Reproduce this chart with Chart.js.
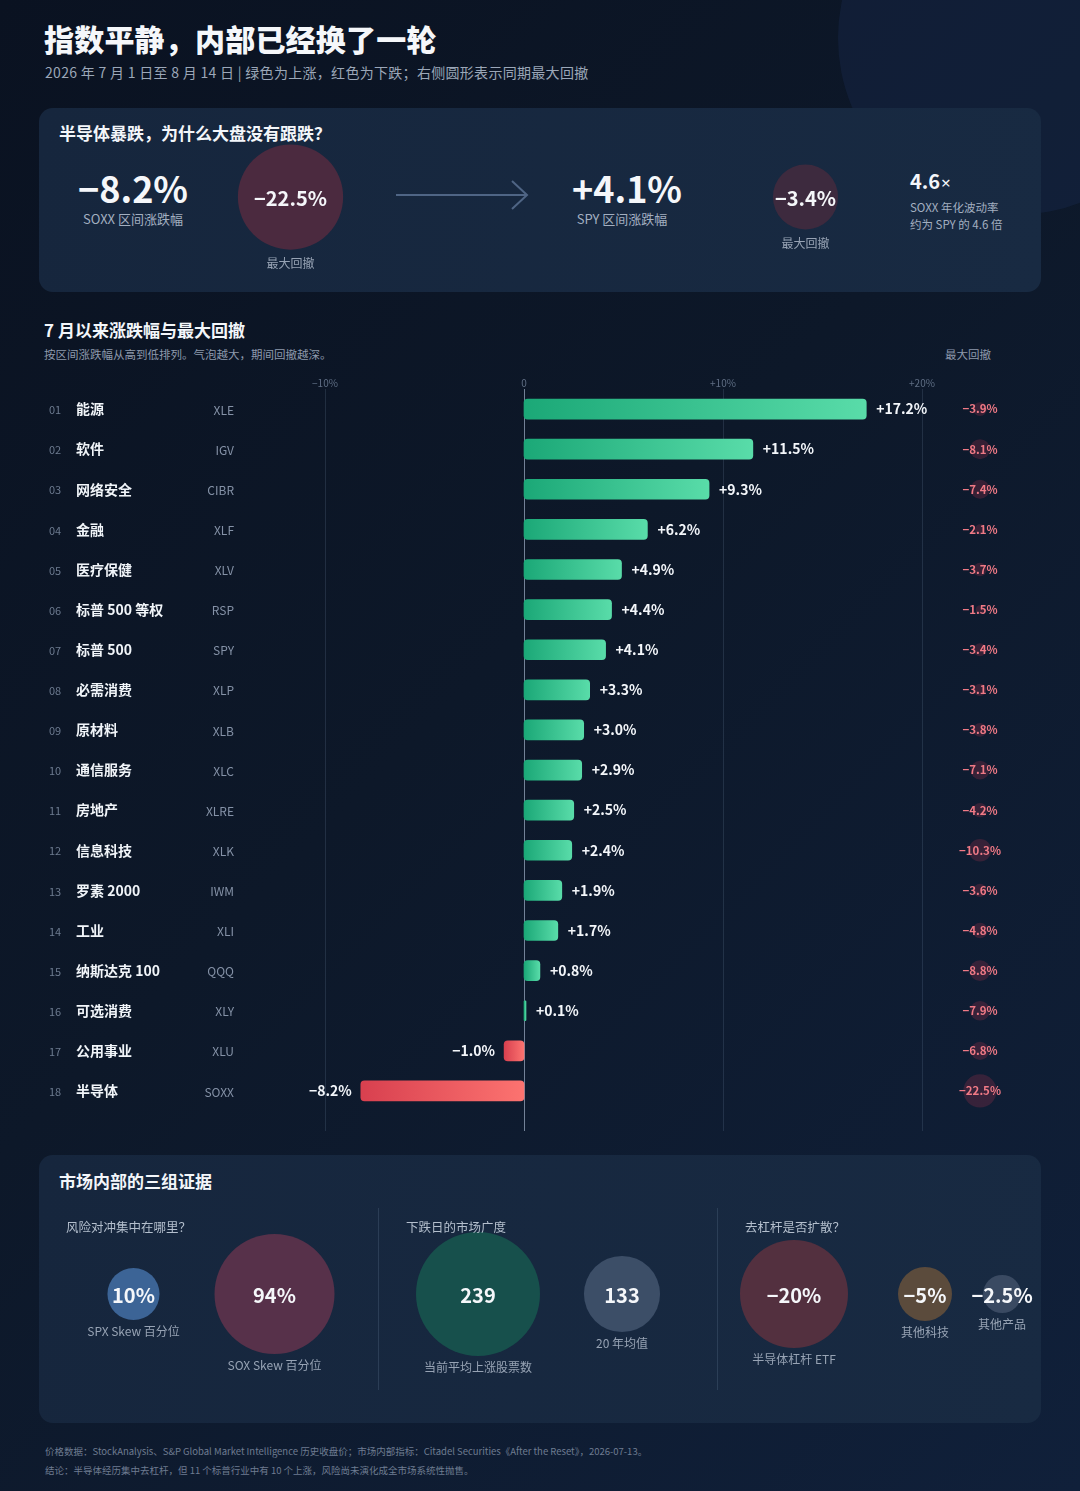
<!DOCTYPE html>
<html lang="zh-CN">
<head>
<meta charset="utf-8">
<title>指数平静，内部已经换了一轮</title>
<script src="https://cdn.jsdelivr.net/npm/chart.js@4.4.1/dist/chart.umd.min.js"></script>
<style>
  html, body { margin: 0; padding: 0; }
  body { width: 1080px; height: 1491px; overflow: hidden; font-family: 'Noto Sans CJK SC', 'Noto Sans', sans-serif; color: #f1f5f9;
    background: linear-gradient(135deg, #0a1221 0%, #0d1829 45%, #10203a 100%); }
  #page { position: relative; width: 1080px; height: 1491px; overflow: hidden; }
  .glow { position: absolute; left: 838px; top: -139px; width: 354px; height: 354px; border-radius: 50%; background: rgba(28, 48, 86, 0.32); }
  .abs { position: absolute; white-space: nowrap; }
  .title { left: 44px; top: 18px; font-size: 30px; line-height: 40px; font-weight: 900; color: #f5f7fa; letter-spacing: 0.2px; }
  .subtitle { left: 45px; top: 62px; font-size: 14px; line-height: 20px; color: #9ba7b8; letter-spacing: 0.3px; }
  .card { position: absolute; left: 39px; width: 1002px; border-radius: 14px; background: linear-gradient(100deg, #16263d 0%, #182a42 100%); }
  .card-title { font-size: 17px; line-height: 24px; font-weight: 700; color: #f3f6fa; }
  .kpi-num { width: 200px; text-align: center; font-size: 36px; line-height: 40px; font-weight: 700; color: #f5f7fa; }
  .kpi-lab { width: 200px; text-align: center; font-size: 13px; line-height: 18px; color: #a3afc0; }
  .vol-num { font-size: 20px; line-height: 24px; font-weight: 700; color: #f3f6fa; }
  .vol-num small { font-family: 'Noto Sans', sans-serif; font-size: 17px; font-weight: 400; margin-left: 1px; }
  .vol-txt { font-size: 11.5px; line-height: 17px; color: #a3afc0; }
  .sec-title { left: 44px; top: 318px; font-size: 17px; line-height: 24px; font-weight: 700; color: #f3f6fa; }
  .sec-sub { left: 44px; top: 346px; font-size: 11.5px; line-height: 16px; color: #8e9aad; }
  .dd-head { left: 918px; width: 100px; text-align: center; top: 346px; font-size: 11.5px; line-height: 16px; color: #8e9aad; }
  .panel-head { font-size: 12.5px; line-height: 18px; color: #b4bfcd; z-index: 2; }
  .divider { position: absolute; top: 1208px; width: 1px; height: 182px; background: rgba(120, 140, 170, 0.22); }
  .footer { left: 45px; font-size: 9.5px; line-height: 14px; color: #6e7c91; }
  canvas { position: absolute; display: block; z-index: 1; }
</style>
</head>
<body>
<div id="page">
  <div class="glow"></div>
  <div class="abs title">指数平静，内部已经换了一轮</div>
  <div class="abs subtitle">2026 年 7 月 1 日至 8 月 14 日 | 绿色为上涨，红色为下跌；右侧圆形表示同期最大回撤</div>

  <!-- top card -->
  <div class="card" style="top:108px;height:184px;"></div>
  <div class="abs card-title" style="left:59px;top:121px;">半导体暴跌，为什么大盘没有跟跌？</div>
  <div class="abs kpi-num" id="kpi0" style="left:33px;top:167px;"></div>
  <div class="abs kpi-lab" id="kpiLab0" style="left:33px;top:210px;"></div>
  <div class="abs kpi-num" id="kpi1" style="left:527px;top:167px;"></div>
  <div class="abs kpi-lab" id="kpiLab1" style="left:522px;top:210px;"></div>
  <svg class="abs" style="left:394px;top:178px;" width="138" height="34" viewBox="0 0 138 34">
    <line x1="2" y1="17" x2="133" y2="17" stroke="#4f6585" stroke-width="2"/>
    <polyline points="118,3 133,17 118,31" fill="none" stroke="#4f6585" stroke-width="2"/>
  </svg>
  <div class="abs vol-num" id="volNum" style="left:910px;top:169px;"></div>
  <div class="abs vol-txt" id="volTxt" style="left:910px;top:199px;"></div>
  <canvas id="kpiChart" width="1030" height="160" style="left:33px;top:117px;width:1030px;height:160px;"></canvas>

  <!-- sector chart -->
  <div class="abs sec-title">7 月以来涨跌幅与最大回撤</div>
  <div class="abs sec-sub">按区间涨跌幅从高到低排列。气泡越大，期间回撤越深。</div>
  <div class="abs dd-head">最大回撤</div>
  <canvas id="sectorChart" width="1080" height="772" style="left:0;top:369px;width:1080px;height:772px;"></canvas>

  <!-- bottom card -->
  <div class="card" style="top:1155px;height:268px;"></div>
  <div class="abs card-title" style="left:59px;top:1169px;">市场内部的三组证据</div>
  <div class="abs panel-head" style="left:66px;top:1218px;">风险对冲集中在哪里？</div>
  <div class="abs panel-head" style="left:406px;top:1218px;">下跌日的市场广度</div>
  <div class="abs panel-head" style="left:745px;top:1218px;">去杠杆是否扩散？</div>
  <div class="divider" style="left:378px;"></div>
  <div class="divider" style="left:717px;"></div>
  <canvas id="hedgeChart" width="282" height="200" style="left:63px;top:1200px;width:282px;height:200px;"></canvas>
  <canvas id="breadthChart" width="288" height="200" style="left:406px;top:1200px;width:288px;height:200px;"></canvas>
  <canvas id="delevChart" width="324" height="200" style="left:717px;top:1200px;width:324px;height:200px;"></canvas>

  <div class="abs footer" style="top:1444px;">价格数据：StockAnalysis、S&amp;P Global Market Intelligence 历史收盘价；市场内部指标：Citadel Securities《After the Reset》，2026-07-13。</div>
  <div class="abs footer" style="top:1463px;">结论：半导体经历集中去杠杆，但 11 个标普行业中有 10 个上涨，风险尚未演化成全市场系统性抛售。</div>
</div>

<script>
// ---- data ----
const sectorNames = ['能源', '软件', '网络安全', '金融', '医疗保健', '标普 500 等权', '标普 500', '必需消费', '原材料',
  '通信服务', '房地产', '信息科技', '罗素 2000', '工业', '纳斯达克 100', '可选消费', '公用事业', '半导体'];
const sectorTickers = ['XLE', 'IGV', 'CIBR', 'XLF', 'XLV', 'RSP', 'SPY', 'XLP', 'XLB', 'XLC', 'XLRE', 'XLK', 'IWM', 'XLI', 'QQQ', 'XLY', 'XLU', 'SOXX'];
const sectorReturns = [17.2, 11.5, 9.3, 6.2, 4.9, 4.4, 4.1, 3.3, 3.0, 2.9, 2.5, 2.4, 1.9, 1.7, 0.8, 0.1, -1.0, -8.2];
const sectorDrawdowns = [-3.9, -8.1, -7.4, -2.1, -3.7, -1.5, -3.4, -3.1, -3.8, -7.1, -4.2, -10.3, -3.6, -4.8, -8.8, -7.9, -6.8, -22.5];
const axisTicks = [-10, 0, 10, 20];

const kpiTickers = ['SOXX', 'SPY'];
const kpiReturns = [-8.2, 4.1];
const kpiDrawdowns = [-22.5, -3.4];
const volRatio = 4.6;

const hedgeLabels = ['SPX Skew 百分位', 'SOX Skew 百分位'];
const hedgeValues = [10, 94];
const breadthLabels = ['当前平均上涨股票数', '20 年均值'];
const breadthValues = [239, 133];
const delevLabels = ['半导体杠杆 ETF', '其他科技', '其他产品'];
const delevValues = [-20, -5, -2.5];

// ---- helpers ----
const FONT = "'Noto Sans CJK SC', 'Noto Sans', sans-serif";
Chart.defaults.font.family = FONT;
Chart.defaults.animation = false;

const sign = v => (v > 0 ? '+' : v < 0 ? '−' : '');
const fmtPct = (v, d = 1) => sign(v) + Math.abs(v).toFixed(d) + '%';
const fmtShort = v => (v < 0 ? '−' : '') + Math.abs(v) + '%';
const tickFmt = v => (v === 0 ? '0' : sign(v) + Math.abs(v) + '%');

const baseOpts = {
  responsive: false, animation: false, events: [],
  plugins: { legend: { display: false }, tooltip: { enabled: false } }
};

// text inside and below each bubble
function bubbleText(fmt, captions, opts) {
  return {
    id: 'bubbleText',
    afterDatasetsDraw(chart) {
      const c = chart.ctx;
      const meta = chart.getDatasetMeta(0);
      const ds = chart.data.datasets[0];
      c.save();
      c.textAlign = 'center';
      c.textBaseline = 'middle';
      meta.data.forEach((pt, i) => {
        const r = ds.data[i].r;
        c.fillStyle = '#f5f7fa';
        c.font = '700 ' + opts.size + 'px ' + FONT;
        c.fillText(fmt(ds.raw[i]), pt.x, pt.y + 1);
        if (captions) {
          c.fillStyle = '#97a3b4';
          c.font = opts.capSize + 'px ' + FONT;
          c.fillText(captions[i], pt.x, pt.y + r + opts.capGap);
        }
      });
      c.restore();
    }
  };
}

// ---- top KPI card ----
kpiTickers.forEach((t, i) => {
  document.getElementById('kpi' + i).textContent = fmtPct(kpiReturns[i]);
  document.getElementById('kpiLab' + i).textContent = t + ' 区间涨跌幅';
});
document.getElementById('volNum').innerHTML = volRatio + '<small>×</small>';
document.getElementById('volTxt').innerHTML = kpiTickers[0] + ' 年化波动率<br>约为 ' + kpiTickers[1] + ' 的 ' + volRatio + ' 倍';

new Chart(document.getElementById('kpiChart'), {
  type: 'bubble',
  data: {
    labels: kpiTickers,
    datasets: [{
      raw: kpiDrawdowns,
      data: kpiDrawdowns.map((d, i) => ({ x: kpiTickers[i], y: 0, r: 29 + 1.05 * Math.abs(d) })),
      backgroundColor: ['#4b2a3f', '#3d2a3e'],
      borderWidth: 0,
      clip: false
    }]
  },
  options: {
    ...baseOpts,
    layout: { padding: 0, autoPadding: false },
    scales: {
      x: { type: 'category', offset: true, display: false },
      y: { min: -1, max: 1, display: false }
    }
  },
  plugins: [bubbleText(v => fmtPct(v), kpiTickers.map(() => '最大回撤'), { size: 20, capSize: 12, capGap: 14 })]
});

// ---- sector bars ----
const rowDecor = {
  id: 'rowDecor',
  beforeDatasetsDraw(chart) {
    const { ctx: c, chartArea: a, scales: { x } } = chart;
    c.save();
    axisTicks.forEach(t => {
      const px = Math.round(x.getPixelForValue(t)) + 0.5;
      c.strokeStyle = t === 0 ? 'rgba(150,165,188,0.75)' : 'rgba(110,130,160,0.22)';
      c.lineWidth = 1;
      c.beginPath();
      c.moveTo(px, a.top);
      c.lineTo(px, a.bottom + 20);
      c.stroke();
    });
    c.restore();
  },
  afterDatasetsDraw(chart) {
    const c = chart.ctx;
    const bars = chart.getDatasetMeta(0).data;
    c.save();
    c.textBaseline = 'middle';
    bars.forEach((bar, i) => {
      const v = sectorReturns[i];
      const y = bar.y;
      // value label
      c.font = '700 14px ' + FONT;
      c.fillStyle = '#f3f6fa';
      if (v >= 0) { c.textAlign = 'left'; c.fillText(fmtPct(v), bar.x + 10, y); }
      else { c.textAlign = 'right'; c.fillText(fmtPct(v), bar.x - 9, y); }
      // left labels
      c.textAlign = 'left';
      c.font = '11px ' + FONT;
      c.fillStyle = '#6d7b90';
      c.fillText(String(i + 1).padStart(2, '0'), 49, y + 1);
      c.font = '700 14px ' + FONT;
      c.fillStyle = '#f1f5f9';
      c.fillText(sectorNames[i], 76, y);
      c.textAlign = 'right';
      c.font = '12px ' + FONT;
      c.fillStyle = '#8592a7';
      c.fillText(sectorTickers[i], 234, y + 1);
      // drawdown bubble
      const dd = sectorDrawdowns[i];
      c.beginPath();
      c.arc(980, y, 3.5 * Math.sqrt(Math.abs(dd)), 0, Math.PI * 2);
      c.fillStyle = 'rgba(140,48,72,0.32)';
      c.fill();
      c.textAlign = 'center';
      c.font = '700 11.5px ' + FONT;
      c.fillStyle = '#f07a86';
      c.fillText(fmtPct(dd), 980, y);
    });
    c.restore();
  }
};

new Chart(document.getElementById('sectorChart'), {
  type: 'bar',
  data: {
    labels: sectorNames,
    datasets: [{
      data: sectorReturns,
      barThickness: 20,
      borderRadius: 4,
      borderSkipped: false,
      backgroundColor(ctx) {
        const chart = ctx.chart;
        const v = ctx.raw;
        if (!chart.chartArea || typeof v !== 'number') return '#2cc08a';
        const x = chart.scales.x;
        const x0 = x.getPixelForValue(0), x1 = x.getPixelForValue(v);
        const g = chart.ctx.createLinearGradient(Math.min(x0, x1), 0, Math.max(x0, x1) + 0.01, 0);
        if (v >= 0) { g.addColorStop(0, '#1ba877'); g.addColorStop(1, '#59dca9'); }
        else { g.addColorStop(0, '#d8404f'); g.addColorStop(1, '#fc7370'); }
        return g;
      }
    }]
  },
  options: {
    ...baseOpts,
    indexAxis: 'y',
    layout: { padding: { left: 325, right: 158, top: 0, bottom: 30 } },
    scales: {
      x: {
        position: 'top', min: -10, max: 20,
        grid: { display: false, drawTicks: false, tickLength: 0 }, border: { display: false },
        afterBuildTicks: s => { s.ticks = axisTicks.map(v => ({ value: v })); },
        afterFit: s => { s.height = 20; },
        ticks: { padding: 0, color: '#5f6e84', font: { size: 10 }, callback: v => tickFmt(v) }
      },
      y: { display: false, grid: { display: false } }
    }
  },
  plugins: [rowDecor]
});

// ---- bottom bubbles ----
function radiusScale(values, rMin, rMax, mode) {
  const vmax = Math.max(...values.map(Math.abs));
  return values.map(v => {
    const f = Math.abs(v) / vmax;
    return mode === 'sqrt' ? rMax * Math.sqrt(f) : rMin + (rMax - rMin) * f;
  });
}

function panelChart(id, labels, values, radii, colors, fmt, xScale, xs) {
  return new Chart(document.getElementById(id), {
    type: 'bubble',
    data: {
      labels,
      datasets: [{
        raw: values,
        data: values.map((v, i) => ({ x: xs ? xs[i] : labels[i], y: 0, r: radii[i] })),
        backgroundColor: colors,
        borderWidth: 0,
        clip: false
      }]
    },
    options: {
      ...baseOpts,
      layout: { padding: { top: 0, bottom: 12, left: 0, right: 0 }, autoPadding: false },
      scales: { x: xScale, y: { min: -1, max: 1, display: false } }
    },
    plugins: [bubbleText(fmt, labels, { size: 20, capSize: 12, capGap: 11 })]
  });
}

panelChart('hedgeChart', hedgeLabels, hedgeValues, radiusScale(hedgeValues, 22, 60, 'linear'),
  ['#3c6496', '#57314a'], v => v + '%', { type: 'category', offset: true, display: false });

panelChart('breadthChart', breadthLabels, breadthValues, radiusScale(breadthValues, 8, 62, 'linear'),
  ['#17504c', '#3c4e67'], v => String(v), { type: 'category', offset: true, display: false });

// third panel: bubbles packed side by side from their radii
const delevRadii = radiusScale(delevValues, 0, 54, 'sqrt');
const delevGaps = [50, 31];
const delevX = [];
delevRadii.forEach((r, i) => {
  delevX.push(i === 0 ? 23 + r : delevX[i - 1] + delevRadii[i - 1] + delevGaps[i - 1] + r);
});
panelChart('delevChart', delevLabels, delevValues, delevRadii,
  ['#53303f', '#5b4b3c', '#3a4a62'], fmtShort, { type: 'linear', min: 0, max: 324, display: false }, delevX);
</script>
</body>
</html>
